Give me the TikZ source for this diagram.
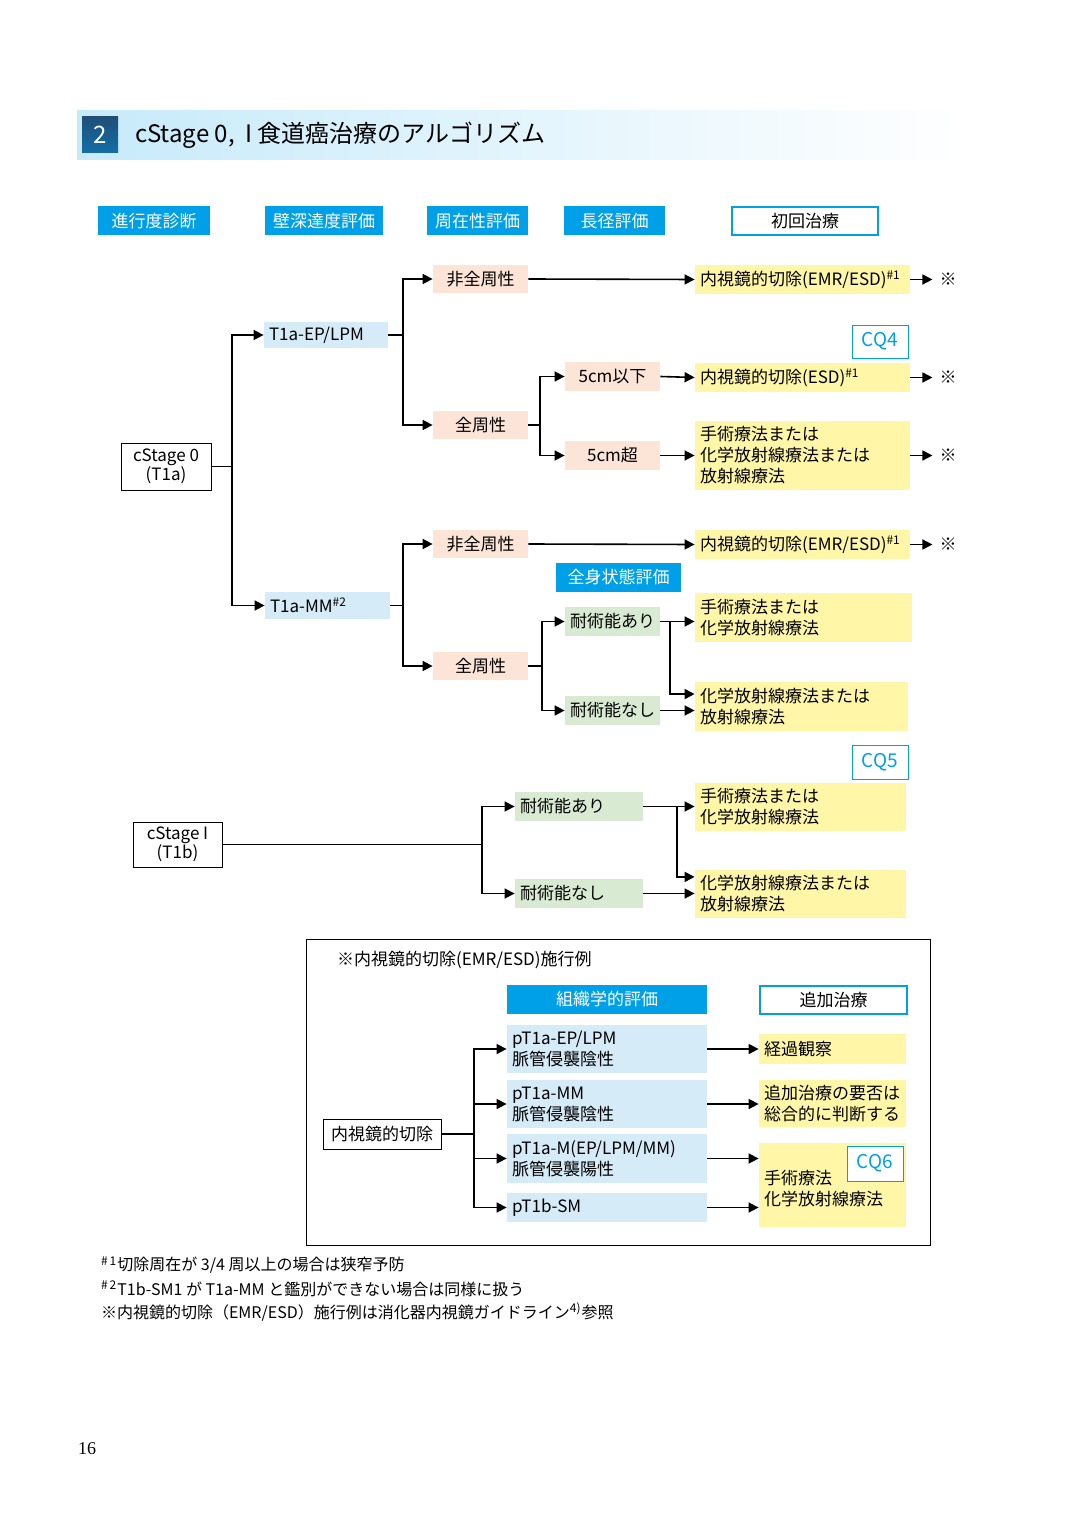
\documentclass[tikz,border=0pt]{standalone}
\usepackage{fontspec}
\setmainfont{Noto Sans CJK JP}
\newfontfamily\pagefont{Liberation Serif}
\usetikzlibrary{positioning,calc,arrows.meta}

\definecolor{hblue}{HTML}{00A0E9}
\definecolor{peach}{HTML}{FCE4D6}
\definecolor{lblue}{HTML}{D6EBF8}
\definecolor{yel}{HTML}{FFF6A8}
\definecolor{lgreen}{HTML}{D9EAD3}
\definecolor{navy}{HTML}{1F4E79}

\tikzset{
  box/.style n args={2}{minimum width=#1pt, minimum height=#2pt, inner sep=1pt},
  head/.style={fill=hblue, text=white},
  whead/.style={draw=hblue, line width=1pt, fill=white},
  stage/.style={draw, fill=white, align=center, font=\fontsize{8.5}{9.5}\selectfont},
  pch/.style={fill=peach},
  lb/.style={fill=lblue, align=left, inner xsep=2.5pt, text width=#1pt},
  grn/.style={fill=lgreen},
  gl/.style={fill=lgreen, align=left, inner xsep=2.5pt, text width=#1pt},
  yb/.style={fill=yel, align=left, inner xsep=2.5pt, text width=#1pt},
  pb/.style={fill=lblue, align=left, inner xsep=2.5pt, text width=#1pt},
  cq/.style={draw=hblue, fill=white, text=hblue, font=\fontsize{9.5}{10}\selectfont},
  line/.style={draw, thick},
  arr/.style={draw, thick, -{Triangle[length=5pt, width=5pt]}}
}

\begin{document}
\begin{tikzpicture}[x=0.5pt, y=-0.5pt, font=\fontsize{8.5}{10.5}\selectfont]
\useasboundingbox (0,0) rectangle (1075,1518);

% title band
\shade[left color=hblue!22, right color=white] (77,110) -- (948,110) -- (970,160) -- (77,160) -- cycle;
\shade[top color=navy, bottom color=navy!60!hblue] (82,117) rectangle (118,153);
\node[text=white, font=\fontsize{12}{12}\selectfont] (num) at (100,135) {2};
\node[right, font=\fontsize{12}{12}\selectfont] (title) at (128,135) {cStage 0,\ \ I 食道癌治療のアルゴリズム};

% column headers
\node[head, box={56}{14.5}] (h1) at (154,221) {進行度診断};
\node[head, box={59}{14.5}] (h2) at (324,221) {壁深達度評価};
\node[head, box={50.5}{14.5}] (h3) at (477.5,221) {周在性評価};
\node[head, box={50.5}{14.5}] (h4) at (614.5,221) {長径評価};
\node[whead, box={73}{14}] (h5) at (805,221) {初回治療};

% cStage 0
\node[stage, box={45}{23.5}] (c0) at (166,466.5) {cStage 0\\(T1a)};
\node[lb=57, box={62}{13}] (ep) at (326,335) {T1a-EP/LPM};
\node[lb=57.5, box={62.5}{13.5}] (mm) at (327.5,605.5) {T1a-MM\textsuperscript{\#2}};

\node[pch, box={47.5}{14}] (nz1) at (480.5,279) {非全周性};
\node[pch, box={47.5}{14}] (zs1) at (480.5,425) {全周性};
\node[pch, box={47.5}{14.5}] (s5a) at (612.5,376.5) {5cm以下};
\node[pch, box={47.5}{14.5}] (s5b) at (612.5,455.5) {5cm超};

\node[yb=102.5, box={107.5}{14.5}] (r1) at (802.5,279.5) {内視鏡的切除(EMR/ESD)\textsuperscript{\#1}};
\node[cq, box={28}{16.5}] (cq4) at (880,341.5) {CQ4};
\node[yb=102.5, box={107.5}{14.5}] (r2) at (802.5,377.5) {内視鏡的切除(ESD)\textsuperscript{\#1}};
\node[yb=102.5, box={107.5}{34.5}] (r3) at (802.5,455.5) {手術療法または\\化学放射線療法または\\放射線療法};

\node[pch, box={47.5}{14}] (nz2) at (480.5,544) {非全周性};
\node[yb=102.5, box={107.5}{14.5}] (r4) at (802.5,544.5) {内視鏡的切除(EMR/ESD)\textsuperscript{\#1}};
\node[head, box={62.5}{14.5}] (zk) at (618.5,577.5) {全身状態評価};
\node[pch, box={47.5}{14}] (zs2) at (480.5,666) {全周性};
\node[grn, box={47.5}{14.5}] (ta1) at (612.5,621.5) {耐術能あり};
\node[grn, box={47.5}{14.5}] (tn1) at (612.5,710.5) {耐術能なし};
\node[yb=103.5, box={108.5}{24.5}] (r5) at (803.5,617.5) {手術療法または\\化学放射線療法};
\node[yb=101.5, box={106.5}{24.5}] (r6) at (801.5,706.5) {化学放射線療法または\\放射線療法};

% cStage I
\node[cq, box={28}{17}] (cq5) at (880,762) {CQ5};
\node[stage, box={44.5}{22.5}] (c1) at (177.5,844.5) {cStage I\\(T1b)};
\node[gl=59, box={64}{14.5}] (ta2) at (579,806.5) {耐術能あり};
\node[gl=59, box={64}{14.5}] (tn2) at (579,893.5) {耐術能なし};
\node[yb=100.5, box={105.5}{24}] (r7) at (800.5,807) {手術療法または\\化学放射線療法};
\node[yb=100.5, box={105.5}{24}] (r8) at (800.5,894) {化学放射線療法または\\放射線療法};

% junctions
\coordinate (j1) at (232,0);
\coordinate (j2) at (403,0);
\coordinate (j3) at (540,0);
\coordinate (j4) at (542,0);
\coordinate (j5) at (670,0);
\coordinate (j6) at (482,0);
\coordinate (j7) at (677,0);

\draw[line] (c0.east) -- (c0.east -| j1);
\draw[arr] (c0.east -| j1) |- (ep.west);
\draw[arr] (c0.east -| j1) |- (mm.west);
\draw[line] (ep.east) -- (ep.east -| j2);
\draw[arr] (ep.east -| j2) |- (nz1.west);
\draw[arr] (ep.east -| j2) |- (zs1.west);
\draw[arr] (nz1.east) -- (r1.west);
\draw[line] (zs1.east) -- (zs1.east -| j3);
\draw[arr] (zs1.east -| j3) |- (s5a.west);
\draw[arr] (zs1.east -| j3) |- (s5b.west);
\draw[arr] (s5a.east) -- (r2.west);
\draw[arr] (s5b.east) -- (r3.west);

\draw[line] (mm.east) -- (mm.east -| j2);
\draw[arr] (mm.east -| j2) |- (nz2.west);
\draw[arr] (mm.east -| j2) |- (zs2.west);
\draw[arr] (nz2.east) -- (r4.west);
\draw[line] (zs2.east) -- (zs2.east -| j4);
\draw[arr] (zs2.east -| j4) |- (ta1.west);
\draw[arr] (zs2.east -| j4) |- (tn1.west);
\draw[arr] (ta1.east) -- (ta1.east -| r5.west);
\draw[arr] (ta1.east -| j5) |- ($(r6.north west)!0.25!(r6.south west)$);
\draw[arr] (tn1.east) -- (tn1.east -| r6.west);

\draw[line] (c1.east) -- (c1.east -| j6);
\draw[arr] (c1.east -| j6) |- (ta2.west);
\draw[arr] (c1.east -| j6) |- (tn2.west);
\draw[arr] (ta2.east) -- (ta2.east -| r7.west);
\draw[arr] (ta2.east -| j7) |- ($(r8.north west)!0.15!(r8.south west)$);
\draw[arr] (tn2.east) -- (tn2.east -| r8.west);

% to the box below
\node (m1) at (948,279.5) {※};
\node (m2) at (948,377.5) {※};
\node (m3) at (948,455.5) {※};
\node (m4) at (948,544.5) {※};
\draw[arr] (r1.east) -- (m1.west);
\draw[arr] (r2.east) -- (m2.west);
\draw[arr] (r3.east) -- (m3.west);
\draw[arr] (r4.east) -- (m4.west);

% endoscopic resection frame
\draw (306,939) rectangle (930,1245);
\node[right] (ftitle) at (330,960) {※内視鏡的切除(EMR/ESD)施行例};
\node[head, box={100}{14.5}] (sk) at (607,999.5) {組織学的評価};
\node[whead, box={73.5}{14}] (tj) at (833.5,1000) {追加治療};
\node[draw, fill=white, box={59}{15}] (es) at (382,1134) {内視鏡的切除};

\node[pb=95, box={100}{24}] (p1) at (607,1049) {pT1a-EP/LPM\\脈管侵襲陰性};
\node[pb=95, box={100}{24}] (p2) at (607,1104) {pT1a-MM\\脈管侵襲陰性};
\node[pb=95, box={100}{24.5}] (p3) at (607,1158.5) {pT1a-M(EP/LPM/MM)\\脈管侵襲陽性};
\node[pb=95, box={100}{14.5}] (p4) at (607,1207.5) {pT1b-SM};

\node[yb=68.5, box={73.5}{15}] (k1) at (832.5,1049) {経過観察};
\node[yb=68.5, box={73.5}{23.5}] (k2) at (832.5,1103.5) {追加治療の要否は\\総合的に判断する};
\node[yb=68.5, box={73.5}{42}] (k3) at (832.5,1185) {\\手術療法\\化学放射線療法};
\node[cq, box={28}{17.5}] (cq6) at (875,1163.5) {CQ6};

\coordinate (j8) at (474,0);
\draw[line] (es.east) -- (es.east -| j8);
\draw[arr] (es.east -| j8) |- (p1.west);
\draw[arr] (es.east -| j8) |- (p2.west);
\draw[arr] (es.east -| j8) |- (p3.west);
\draw[arr] (es.east -| j8) |- (p4.west);
\draw[arr] (p1.east) -- (p1.east -| k1.west);
\draw[arr] (p2.east) -- (p2.east -| k2.west);
\draw[arr] (p3.east) -- (p3.east -| k3.west);
\draw[arr] (p4.east) -- (p4.east -| k3.west);

% footnotes
\node[right, font=\fontsize{8}{9}\selectfont] (fn1) at (94,1265) {\textsuperscript{\#\,1}切除周在が 3/4 周以上の場合は狭窄予防};
\node[right, font=\fontsize{8}{9}\selectfont] (fn2) at (94,1289) {\textsuperscript{\#\,2}T1b-SM1 が T1a-MM と鑑別ができない場合は同様に扱う};
\node[right, font=\fontsize{8}{9}\selectfont] (fn3) at (94,1312) {※内視鏡的切除（EMR/ESD）施行例は消化器内視鏡ガイドライン\textsuperscript{4)}参照};

\node[font=\pagefont\fontsize{9}{9}\selectfont] (page) at (87,1449) {16};
\end{tikzpicture}
\end{document}
